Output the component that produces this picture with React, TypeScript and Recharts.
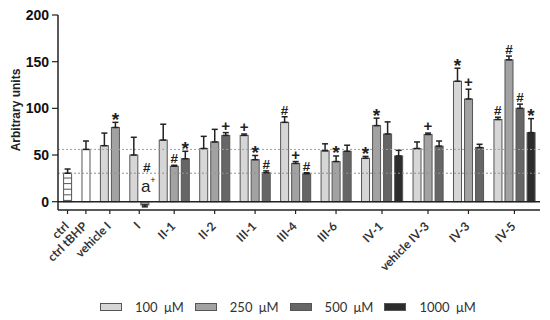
import React from 'react';
import { ComposedChart, Bar, Line, XAxis, YAxis, ReferenceLine, ErrorBar, Legend } from 'recharts';

// ---------- data ----------
const categories = ['ctrl', 'ctrl tBHP', 'vehicle I', 'I', 'II-1', 'II-2', 'III-1', 'III-4', 'III-6', 'IV-1', 'vehicle IV-3', 'IV-3', 'IV-5'];

// controls (ctrl = hatched, ctrl tBHP = white)
const controlValues = [30.5, 56, null, null, null, null, null, null, null, null, null, null, null];
const controlErr = [4.5, 9, null, null, null, null, null, null, null, null, null, null, null];

const values100 = [null, null, 60, 50, 66, 57, 71, 85, 54.5, 46.5, 57, 129, 88];
const err100 = [null, null, 13.5, 19, 17, 13, 1.5, 6, 7.5, 2, 7, 14, 2.5];
const sig100 = ['', '', '', '', '', '', '+', '#', '', '*', '', '*', '#'];

const values250 = [null, null, 79.5, -3.5, 38, 64, 45, 41, 43, 81.5, 72, 110, 152];
const err250 = [null, null, 5.5, 2, 1, 13.5, 4.5, 2, 6, 8, 1.5, 10.5, 4];
const sig250 = ['', '', '*', '#', '#', '', '*', '+', '*', '*', '+', '+', '#'];
const note250 = ['', '', '', 'a', '', '', '', '', '', '', '', '', ''];

const values500 = [null, null, null, null, 46, 71, 31, 30, 54, 72.5, 59.5, 58, 100];
const err500 = [null, null, null, null, 8, 3, 2, 1, 6.5, 13, 5.5, 3.5, 4.5];
const sig500 = ['', '', '', '', '*', '+', '#', '#', '', '', '', '', '#'];

const values1000 = [null, null, null, null, null, null, null, null, null, 49, null, null, 74];
const err1000 = [null, null, null, null, null, null, null, null, null, 6, null, null, 15];
const sig1000 = ['', '', '', '', '', '', '', '', '', '', '', '', '*'];

const legendLabels = ['100 \u03bcM', '250 \u03bcM', '500 \u03bcM', '1000 \u03bcM'];
const yTicks = [0, 50, 100, 150, 200];

// ---------- styles ----------
const ARIAL = 'Arial, Liberation Sans, sans-serif';
const FILLS: Record<string, string> = {
  ctrl: '#ffffff',
  tbhp: '#ffffff',
  c100: '#d6d6d6',
  c250: '#a2a2a2',
  c500: '#666666',
  c1000: '#2c2c2c',
};
const legendFills = [FILLS.c100, FILLS.c250, FILLS.c500, FILLS.c1000];
const BORDER = '#555555';
const BAR_W = 8;
const STEP = 6; // slots between bars of one group
const GAP = 10; // slots between groups

type Row = {
  key: string;
  kind?: string;
  value?: number | null;
  errBar?: [number, number];
  sig?: string;
  note?: string;
  top?: number | null;
};

function buildRows() {
  const rows: Row[] = [];
  const centerKeys: string[] = [];
  const labelByKey: Record<string, string> = {};
  const series = [
    { kind: 'c100', values: values100, errs: err100, sigs: sig100, notes: null as string[] | null },
    { kind: 'c250', values: values250, errs: err250, sigs: sig250, notes: note250 },
    { kind: 'c500', values: values500, errs: err500, sigs: sig500, notes: null },
    { kind: 'c1000', values: values1000, errs: err1000, sigs: sig1000, notes: null },
  ];
  const spacer = () => rows.push({ key: `u${rows.length}` });
  categories.forEach((cat, g) => {
    const bars: any[] = [];
    if (controlValues[g] != null) {
      bars.push({ kind: g === 0 ? 'ctrl' : 'tbhp', value: controlValues[g], err: controlErr[g], sig: '', note: '' });
    }
    series.forEach((s) => {
      if (s.values[g] != null) {
        bars.push({ kind: s.kind, value: s.values[g], err: s.errs[g], sig: s.sigs[g], note: s.notes ? s.notes[g] : '' });
      }
    });
    if (g > 0) for (let i = 0; i < GAP - 1; i++) spacer();
    const center = rows.length + ((bars.length - 1) * STEP) / 2;
    bars.forEach((b, i) => {
      if (i > 0) for (let k = 0; k < STEP - 1; k++) spacer();
      const v = b.value as number;
      const e = (b.err ?? 0) as number;
      rows.push({
        key: `u${rows.length}`,
        kind: b.kind,
        value: v,
        errBar: v >= 0 ? [0, e] : [e, 0],
        sig: b.sig,
        note: b.note,
        top: b.sig || b.note ? (v >= 0 ? v + e : 0) : null,
      });
    });
    centerKeys.push(`u${center}`);
    labelByKey[`u${center}`] = cat;
  });
  return { rows, centerKeys, labelByKey };
}

const { rows, centerKeys, labelByKey } = buildRows();

// ---------- renderers ----------
const BarShape = (props: any) => {
  const { x, y, width, height, payload } = props;
  if (!payload || payload.value == null || x == null || y == null) return <g />;
  const cx = x + width / 2;
  const top = Math.min(y, y + height);
  const h = Math.abs(height);
  const left = cx - BAR_W / 2;
  const kind = payload.kind as string;
  const lines: React.ReactNode[] = [];
  if (kind === 'ctrl') {
    for (let yy = top + 4.8, i = 0; yy < top + h - 1; yy += 5.6, i++) {
      lines.push(<line key={i} x1={left} x2={left + BAR_W} y1={yy} y2={yy} stroke={BORDER} strokeWidth={1} />);
    }
  }
  return (
    <g>
      <rect x={left} y={top} width={BAR_W} height={h} fill={FILLS[kind]} stroke={BORDER} strokeWidth={1} />
      {lines}
    </g>
  );
};

const symbolStyle: Record<string, { size: number; shift: number }> = {
  '*': { size: 19, shift: 10.5 },
  '#': { size: 13.5, shift: 4.8 },
  '+': { size: 15, shift: 5.2 },
};

const SigDot = (props: any) => {
  const { cx, cy, payload, index } = props;
  if (!payload || (!payload.sig && !payload.note) || cx == null || cy == null || isNaN(cy)) {
    return <g key={`s${index}`} />;
  }
  const sig = payload.sig as string;
  const st = symbolStyle[sig] || { size: 13, shift: 4.6 };
  if (payload.note) {
    return (
      <g key={`s${index}`}>
        <text x={cx + 1} y={cy - 10} textAnchor="middle" fontFamily={ARIAL} fontSize={17} fill="#222">
          {payload.note}
        </text>
        <text x={cx + 8} y={cy - 19} textAnchor="middle" fontFamily={ARIAL} fontSize={9} fill="#222">
          +
        </text>
        <text x={cx + 2} y={cy - 34.5 + st.shift} textAnchor="middle" fontFamily={ARIAL} fontWeight={700} fontSize={st.size} fill="#222">
          {sig}
        </text>
      </g>
    );
  }
  return (
    <text key={`s${index}`} x={cx} y={cy - 7 + st.shift} textAnchor="middle" fontFamily={ARIAL} fontWeight={700} fontSize={st.size} fill="#222">
      {sig}
    </text>
  );
};

const XTick = (props: any) => {
  const { x, y, payload } = props;
  const label = labelByKey[payload.value] ?? '';
  const tx = x + 2;
  const ty = y + 11;
  return (
    <text
      x={tx}
      y={ty}
      transform={`rotate(-45 ${tx} ${ty})`}
      textAnchor="end"
      fontFamily="Lato, Open Sans, sans-serif"
      fontWeight={700}
      fontSize={12}
      fill="#333"
    >
      {label}
    </text>
  );
};

const YTick = (props: any) => {
  const { x, y, payload } = props;
  return (
    <text x={x} y={y + 5} textAnchor="end" fontFamily={ARIAL} fontWeight={700} fontSize={14} fill="#111">
      {payload.value}
    </text>
  );
};

const YLabel = () => (
  <text
    x={20}
    y={110}
    transform="rotate(-90 20 110)"
    textAnchor="middle"
    fontFamily={ARIAL}
    fontWeight={700}
    fontSize={12}
    fill="#222"
  >
    Arbitrary units
  </text>
);

const LegendContent = () => (
  <div
    style={{
      display: 'flex',
      alignItems: 'center',
      paddingLeft: 100,
      fontFamily: 'Lato, Open Sans, sans-serif',
      fontSize: 13,
      color: '#333',
      lineHeight: '16px',
    }}
  >
    {legendLabels.map((lab, i) => (
      <div key={lab} style={{ display: 'flex', alignItems: 'center', marginRight: 11 }}>
        <div
          style={{
            width: 22,
            height: 8,
            boxSizing: 'border-box',
            border: `1px solid ${BORDER}`,
            background: legendFills[i],
            marginRight: 13,
          }}
        />
        <span style={{ wordSpacing: 3 }}>{lab}</span>
      </div>
    ))}
  </div>
);

export default function App() {
  return (
    <div style={{ position: 'absolute', left: 0, top: 0, width: 550, height: 320, background: '#fff' }}>
      <ComposedChart
        width={550}
        height={320}
        data={rows}
        margin={{ top: 15, right: 10, bottom: 10, left: 0 }}
        barCategoryGap={0}
      >
        <XAxis
          dataKey="key"
          type="category"
          ticks={centerKeys}
          interval={0}
          tick={<XTick />}
          tickSize={4}
          height={100}
          padding={{ left: 8.6, right: 8.1 }}
          axisLine={{ stroke: '#222', strokeWidth: 1.5 }}
          tickLine={{ stroke: '#222', strokeWidth: 1.2 }}
        />
        <YAxis
          domain={[-8.9, 200]}
          ticks={yTicks}
          allowDataOverflow
          width={58}
          tickSize={6}
          tickMargin={3}
          interval={0}
          axisLine={{ stroke: '#222', strokeWidth: 1.5 }}
          tickLine={{ stroke: '#222', strokeWidth: 1.2 }}
          tick={<YTick />}
          label={<YLabel />}
        />
        <ReferenceLine y={controlValues[1] as number} stroke="#a0a0a0" strokeDasharray="2 2" strokeWidth={1} />
        <ReferenceLine y={controlValues[0] as number} stroke="#909090" strokeDasharray="2 2" strokeWidth={1} />
        <ReferenceLine y={0} stroke="#222" strokeWidth={1.5} />
        <Bar dataKey="value" shape={<BarShape />} isAnimationActive={false} legendType="none">
          <ErrorBar dataKey="errBar" width={3} stroke="#222" strokeWidth={1.5} direction="y" />
        </Bar>
        <Line
          dataKey="top"
          stroke="none"
          dot={SigDot}
          activeDot={false}
          isAnimationActive={false}
          legendType="none"
          connectNulls={false}
        />
        <Legend
          content={<LegendContent />}
          wrapperStyle={{ left: 0, top: 299, bottom: 'auto', width: 550, height: 0, overflow: 'visible' }}
        />
      </ComposedChart>
    </div>
  );
}
